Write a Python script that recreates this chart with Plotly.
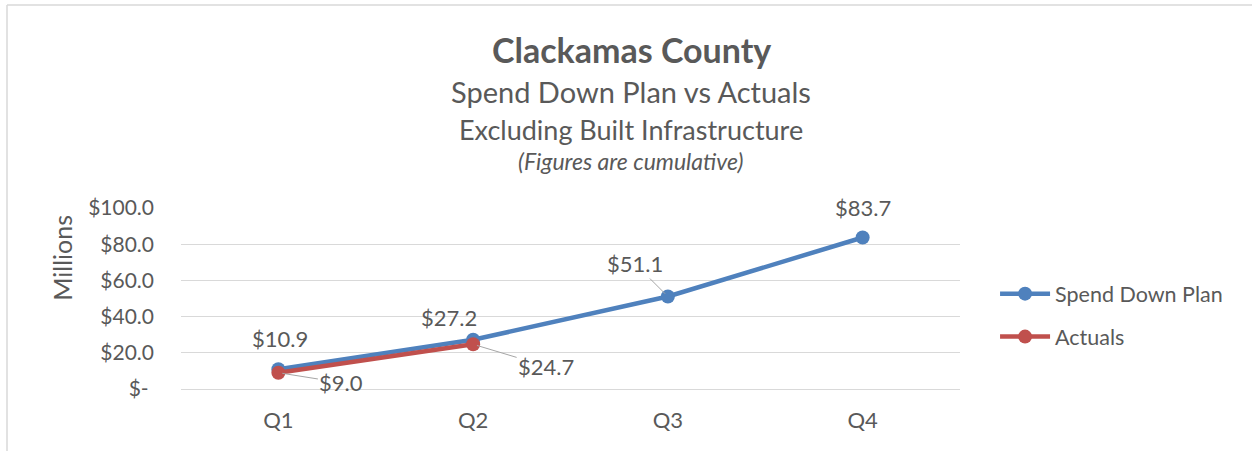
import plotly.graph_objects as go

quarters = ["Q1", "Q2", "Q3", "Q4"]
plan_values = [10.9, 27.2, 51.1, 83.7]
actual_quarters = ["Q1", "Q2"]
actual_values = [9.0, 24.7]
y_tickvals = [0, 20, 40, 60, 80, 100]
y_ticktext = ["$-\u00a0", "$20.0", "$40.0", "$60.0", "$80.0", "$100.0"]

FONT = "Lato, Calibri, Carlito, sans-serif"
GRAY = "#595959"
BLUE = "#4F81BD"
RED = "#C0504D"
LBL = 22

fig = go.Figure()
fig.add_trace(go.Scatter(
    x=quarters, y=plan_values, name="Spend Down Plan", mode="lines+markers",
    line=dict(color=BLUE, width=4.5), marker=dict(color=BLUE, size=14),
    legendgroup="a",
))
fig.add_trace(go.Scatter(
    x=actual_quarters, y=actual_values, name="Actuals", mode="lines+markers",
    line=dict(color=RED, width=4.5), marker=dict(color=RED, size=14),
    legendgroup="b",
))

def money(v):
    return f"${v:.1f}"

# label offsets (pixels) for data labels
plan_offsets = [(2, -31, False), (-24, -22, False), (-33, -33, True), (0, -30, False)]
actual_offsets = [(63, 10, True), (73, 22, True)]

ann = []
for q, v, (dx, dy, arrow) in zip(quarters, plan_values, plan_offsets):
    if arrow:
        ann.append(dict(x=q, y=v, xref="x", yref="y", text=money(v), showarrow=True,
                        ax=dx, ay=dy, arrowhead=0, arrowwidth=1, arrowcolor="#A6A6A6",
                        standoff=4, font=dict(family=FONT, size=LBL, color=GRAY)))
    else:
        ann.append(dict(x=q, y=v, xref="x", yref="y", text=money(v), showarrow=False,
                        xanchor="center", yanchor="middle",
                        xshift=dx, yshift=-dy, font=dict(family=FONT, size=LBL, color=GRAY)))
for q, v, (dx, dy, arrow) in zip(actual_quarters, actual_values, actual_offsets):
    ann.append(dict(x=q, y=v, xref="x", yref="y", text=money(v), showarrow=True,
                    ax=dx, ay=dy, arrowhead=0, arrowwidth=1, arrowcolor="#A6A6A6",
                    standoff=4, font=dict(family=FONT, size=LBL, color=GRAY)))

# titles
common = dict(xref="paper", yref="paper", showarrow=False, xanchor="center", yanchor="middle")
ann += [
    dict(x=0.578, y=1.873, text="<b>Clackamas County</b>",
         font=dict(family=FONT, size=34, color=GRAY), **common),
    dict(x=0.578, y=1.646, text="Spend Down Plan vs Actuals",
         font=dict(family=FONT, size=29, color=GRAY), **common),
    dict(x=0.578, y=1.436, text="Excluding Built Infrastructure",
         font=dict(family=FONT, size=27, color=GRAY), **common),
    dict(x=0.578, y=1.26, text="<i>(Figures are cumulative)</i>",
         font=dict(family=FONT, size=23, color=GRAY), **common),
    dict(x=-0.153, y=0.724, text="Millions", textangle=-90,
         font=dict(family=FONT, size=25, color=GRAY), **common),
]

fig.update_layout(
    width=1252, height=451,
    margin=dict(l=181, r=292, t=208, b=62),
    paper_bgcolor="white", plot_bgcolor="white",
    font=dict(family=FONT, size=18, color=GRAY),
    showlegend=True,
    legend=dict(x=1.045, y=0.64, xanchor="left", yanchor="top", tracegroupgap=12,
                itemwidth=50, font=dict(family=FONT, size=21.5, color=GRAY),
                bgcolor="rgba(0,0,0,0)"),
    annotations=ann,
    shapes=[
        dict(type="line", xref="paper", yref="paper", x0=(7 - 181) / 779, x1=(1252 - 181) / 779,
             y0=(389 - 5) / 181, y1=(389 - 5) / 181, line=dict(color="#D9D9D9", width=1.5)),
        dict(type="line", xref="paper", yref="paper", x0=(7 - 181) / 779, x1=(7 - 181) / 779,
             y0=(389 - 5) / 181, y1=(389 - 451) / 181, line=dict(color="#D9D9D9", width=1.5)),
    ],
)
fig.update_xaxes(
    type="category", categoryorder="array", categoryarray=quarters,
    range=[-0.5, 3.5], showgrid=False, showline=False, zeroline=False, ticks="",
    tickfont=dict(family=FONT, size=22, color=GRAY), ticklabelstandoff=16,
)
fig.update_yaxes(
    range=[0, 100], tickvals=y_tickvals, ticktext=y_ticktext,
    showgrid=True, gridcolor="#D9D9D9", gridwidth=1.3, zeroline=True, zerolinecolor="#D9D9D9",
    zerolinewidth=1.3, showline=False, ticks="",
    tickfont=dict(family=FONT, size=21, color=GRAY), ticklabelstandoff=26,
)

fig.write_html("out.html", config={"displayModeBar": False},
               post_script="document.body.style.margin='0';document.body.style.overflow='hidden';")
